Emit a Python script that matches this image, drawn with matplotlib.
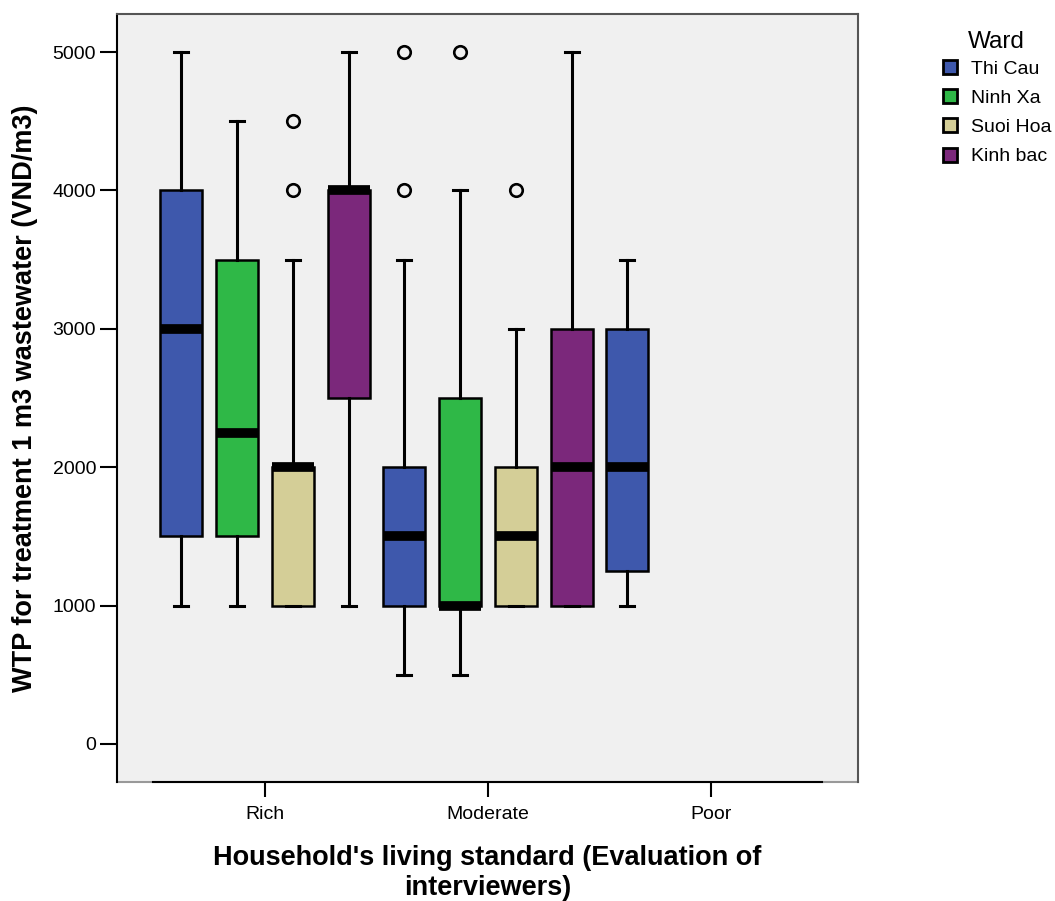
import matplotlib
matplotlib.use("Agg")
import matplotlib.pyplot as plt
from matplotlib.lines import Line2D

plt.rcParams['font.family'] = ['Liberation Sans', 'DejaVu Sans']

categories = ["Rich", "Moderate", "Poor"]
wards = ["Thi Cau", "Ninh Xa", "Suoi Hoa", "Kinh bac"]
colors = ["#3e58ac", "#2fb847", "#d4ce97", "#7b287b"]

# per ward: values for [Rich, Moderate, Poor]; None = no data
thi_cau = dict(whislo=[1000, 500, 1000], q1=[1500, 1000, 1250], med=[3000, 1500, 2000],
               q3=[4000, 2000, 3000], whishi=[5000, 3500, 3500], fliers=[[], [4000, 5000], []])
ninh_xa = dict(whislo=[1000, 500, None], q1=[1500, 1000, None], med=[2250, 1000, None],
               q3=[3500, 2500, None], whishi=[4500, 4000, None], fliers=[[], [5000], []])
suoi_hoa = dict(whislo=[1000, 1000, None], q1=[1000, 1000, None], med=[2000, 1500, None],
                q3=[2000, 2000, None], whishi=[3500, 3000, None], fliers=[[4000, 4500], [4000], []])
kinh_bac = dict(whislo=[1000, 1000, None], q1=[2500, 1000, None], med=[4000, 2000, None],
                q3=[4000, 3000, None], whishi=[5000, 5000, None], fliers=[[], [], []])
ward_data = [thi_cau, ninh_xa, suoi_hoa, kinh_bac]

fig = plt.figure(figsize=(10.55, 9.01), dpi=100)
ax = fig.add_axes([0.1109, 0.1321, 0.7024, 0.8524])
ax.set_facecolor("#f0f0f0")

slot = 0.251
bw = 0.188
for wi, (wd, col) in enumerate(zip(ward_data, colors)):
    stats, pos = [], []
    for ci in range(len(categories)):
        if wd["med"][ci] is None:
            continue
        stats.append(dict(whislo=wd["whislo"][ci], q1=wd["q1"][ci], med=wd["med"][ci],
                          q3=wd["q3"][ci], whishi=wd["whishi"][ci], fliers=wd["fliers"][ci]))
        pos.append(ci + (wi - 1.5) * slot)
    ax.bxp(stats, positions=pos, widths=bw, patch_artist=True, showfliers=True,
           capwidths=0.063,
           boxprops=dict(facecolor=col, edgecolor="black", linewidth=1.8),
           medianprops=dict(color="black", linewidth=7, solid_capstyle="butt"),
           whiskerprops=dict(color="black", linewidth=2.2),
           capprops=dict(color="black", linewidth=2.2),
           flierprops=dict(marker="o", markerfacecolor="none", markeredgecolor="black",
                           markersize=9, markeredgewidth=1.9))

ax.set_xlim(-0.664, 2.659)
ax.set_ylim(-275, 5275)
ax.set_xticks(range(len(categories)))
ax.set_xticklabels(categories, fontsize=14)
ax.set_yticks([0, 1000, 2000, 3000, 4000, 5000])
ax.set_yticklabels(["0", "1000", "2000", "3000", "4000", "5000"], fontsize=14)
ax.tick_params(axis="y", length=12, width=1.5, pad=3)
ax.tick_params(axis="x", length=11, width=1.5, pad=6)

for s in ["top", "right"]:
    ax.spines[s].set_color("#555555")
    ax.spines[s].set_linewidth(1.5)
ax.spines["left"].set_color("black")
ax.spines["left"].set_linewidth(1.5)
ax.spines["bottom"].set_color("black")
ax.spines["bottom"].set_linewidth(1.5)
ax.spines["bottom"].set_bounds(-0.502, 2.498)
ax.plot([-0.664, 2.659], [-275, -275], color="#999999", lw=1.5, clip_on=False, zorder=0.5)

ax.set_ylabel("WTP for treatment 1 m3 wastewater (VND/m3)", fontsize=19.5, fontweight="bold",
              labelpad=10.5)
ax.set_xlabel("Household's living standard (Evaluation of\ninterviewers)", fontsize=19.5,
              fontweight="bold", labelpad=16)

handles = [Line2D([], [], marker="s", linestyle="none", markersize=9.5, markerfacecolor=c,
                  markeredgecolor="black", markeredgewidth=2) for c in colors]
leg = fig.legend(handles, wards, loc="upper left", bbox_to_anchor=(0.8913, 0.9661), frameon=False,
                 title="Ward", fontsize=14, title_fontsize=17.5, handletextpad=0.58,
                 labelspacing=0.6, handlelength=1.0, borderpad=0, borderaxespad=0)
try:
    leg._legend_box.sep = 5.3
except Exception:
    pass

fig.savefig("out.png", dpi=100)
